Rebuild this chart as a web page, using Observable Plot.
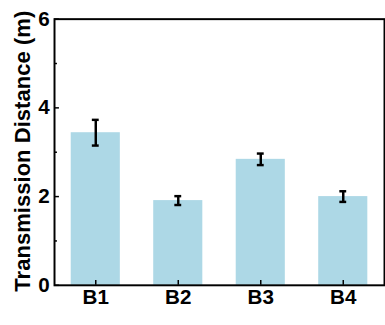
<!DOCTYPE html>
<html>
<head>
<meta charset="utf-8">
<script src="https://cdn.jsdelivr.net/npm/d3@7"></script>
<script src="https://cdn.jsdelivr.net/npm/@observablehq/plot@0.6"></script>
<style>
  html, body { margin: 0; padding: 0; background: #fff; overflow: hidden; }
  #chart svg { display: block; }
</style>
</head>
<body>
<div id="chart"></div>
<script>
const categories = ["B1", "B2", "B3", "B4"];
const values = [3.44, 1.91, 2.84, 2.00];
const errors = [0.29, 0.10, 0.13, 0.12];
const majorTicks = [0, 2, 4, 6];
const minorTicks = [1, 3, 5];

const data = categories.map((c, i) => ({cat: c, v: values[i], e: errors[i]}));

const chart = Plot.plot({
  width: 392,
  height: 325,
  marginLeft: 55,
  marginRight: 1,
  marginTop: 19,
  marginBottom: 35,
  style: {fontFamily: "'Liberation Sans', Arial, sans-serif", fontWeight: "bold", fontSize: "21px", color: "#000", background: "#fff"},
  x: {domain: categories, paddingInner: 0.4, paddingOuter: 0.2, label: null},
  y: {domain: [0, 6], label: null},
  marks: [
    Plot.barY(data, {x: "cat", y: "v", fill: "#add8e6"}),
    Plot.ruleX(data, {x: "cat", y1: d => d.v - d.e, y2: d => d.v + d.e, stroke: "#000", strokeWidth: 2.5}),
    Plot.tickY(data, {x: "cat", y: d => d.v - d.e, stroke: "#000", strokeWidth: 2.5, insetLeft: 21.5, insetRight: 21.5}),
    Plot.tickY(data, {x: "cat", y: d => d.v + d.e, stroke: "#000", strokeWidth: 2.5, insetLeft: 21.5, insetRight: 21.5}),
    Plot.frame({stroke: "#000", strokeWidth: 2}),
    Plot.axisY({ticks: majorTicks, tickSize: -5, text: null, strokeWidth: 1.5}),
    Plot.axisY({ticks: minorTicks, tickSize: -3, text: null, strokeWidth: 1.5}),
    Plot.axisY({ticks: majorTicks, tickSize: 0, tickPadding: 5, tickFormat: d3.format("d"), fontSize: 21, fontWeight: "bold", label: null}),
    Plot.axisX({tickSize: -5, text: null, strokeWidth: 1.5}),
    Plot.axisX({tickSize: 0, tickPadding: 4, fontSize: 21, fontWeight: "bold", label: null}),
    Plot.text(["Transmission Distance (m)"], {frameAnchor: "left", dx: -32, dy: -1, rotate: -90, textAnchor: "middle", fontSize: 22.5, fontWeight: "bold", text: d => d})
  ]
});
document.getElementById("chart").appendChild(chart);
</script>
</body>
</html>
